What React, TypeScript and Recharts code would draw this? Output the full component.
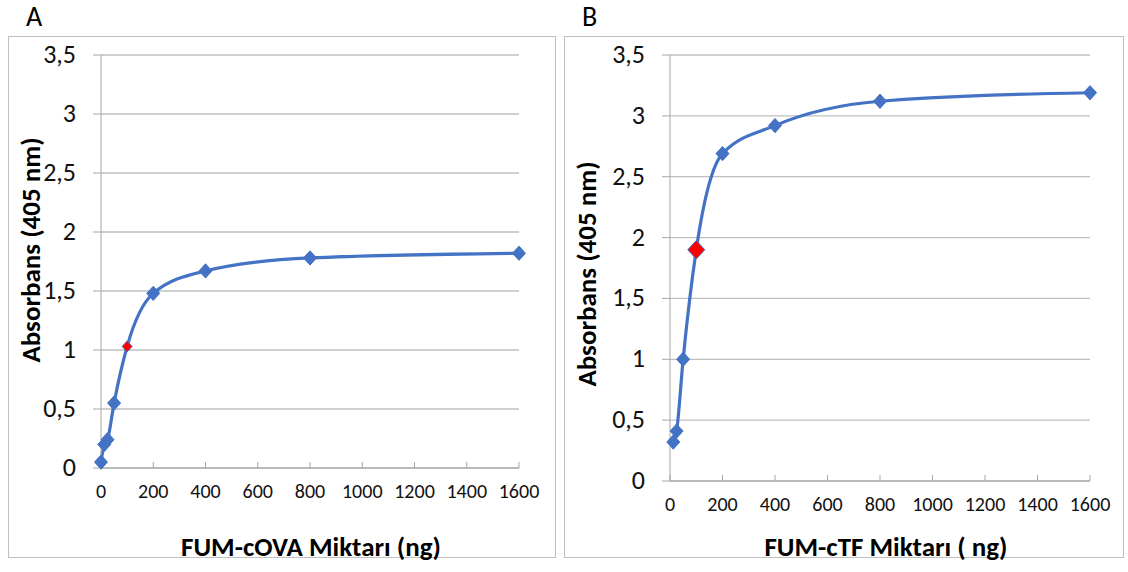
import React from 'react';
import { LineChart, Line, XAxis, YAxis, CartesianGrid } from 'recharts';

// Panel A: FUM-cOVA
const ovaAmounts = [0, 12.5, 25, 50, 100, 200, 400, 800, 1600];
const ovaAbsorbance = [0.05, 0.2, 0.24, 0.55, 1.03, 1.48, 1.67, 1.78, 1.82];

// Panel B: FUM-cTF
const tfAmounts = [12.5, 25, 50, 100, 200, 400, 800, 1600];
const tfAbsorbance = [0.32, 0.41, 1.0, 1.9, 2.69, 2.92, 3.12, 3.19];

// the point marked in red on each curve
const highlightAmount = 100;

const xTicks = [0, 200, 400, 600, 800, 1000, 1200, 1400, 1600];
const yTicks = [0, 0.5, 1, 1.5, 2, 2.5, 3, 3.5];

const FONT = "Carlito, Calibri, 'Open Sans', 'Noto Sans', sans-serif";
const BLUE = '#4472C4';
const GRID = '#BFBFBF';

const fmt = (v: number) => String(v).replace('.', ',');

function makeDot(blueSize: number, redSize: number) {
  return (props: any) => {
    const { cx, cy, payload, index } = props;
    const red = payload.x === highlightAmount;
    const w = (red ? redSize : blueSize) / 2;
    const h = w * 1.1;
    return (
      <path
        key={`d-${index}`}
        d={`M${cx},${cy - h} L${cx + w},${cy} L${cx},${cy + h} L${cx - w},${cy} Z`}
        fill={red ? '#FF0000' : BLUE}
        stroke={BLUE}
        strokeWidth={1}
      />
    );
  };
}

// x tick: text centred on the tick, dropped below the axis line
const XTick = (props: any) => {
  const { x, y, payload } = props;
  return (
    <text x={x} y={y + 36} textAnchor="middle" fontSize={20} fontFamily={FONT} fill="#111">
      {payload.value}
    </text>
  );
};

// y tick: right aligned, comma decimal
const YTick = (props: any) => {
  const { x, y, payload } = props;
  return (
    <text x={x - 17} y={y + 8} textAnchor="end" fontSize={26} fontFamily={FONT} fill="#111">
      {fmt(payload.value)}
    </text>
  );
};

interface PanelProps {
  letter: string;
  xs: number[];
  ys: number[];
  left: number;
  width: number;
  margin: { top: number; right: number; bottom: number; left: number };
  xTitle: string;
  xTitleX: number;
  yTitleX: number;
  yTitleY: number;
  redSize: number;
}

function Panel(p: PanelProps) {
  const data = p.xs.map((x, i) => ({ x, y: p.ys[i] }));
  return (
    <>
      <div style={{ position: 'absolute', left: p.left + 18, top: -1, fontSize: 28, fontFamily: FONT }}>{p.letter}</div>
      <div
        style={{
          position: 'absolute',
          left: p.left,
          top: 36,
          width: p.width - 2,
          height: 520,
          border: '1px solid #BFBFBF',
        }}
      />
      <div style={{ position: 'absolute', left: p.left, top: 36 }}>
        <LineChart width={p.width} height={522} data={data} margin={p.margin}>
          <CartesianGrid vertical={false} stroke={GRID} strokeWidth={1.3} />
          <XAxis
            type="number"
            dataKey="x"
            domain={[0, 1600]}
            ticks={xTicks}
            interval={0}
            stroke="#A6A6A6"
            tickSize={-6}
            tickMargin={0}
            height={30}
            tick={<XTick />}
          />
          <YAxis
            type="number"
            domain={[0, 3.5]}
            ticks={yTicks}
            interval={0}
            width={60}
            stroke="#A6A6A6"
            tickSize={8}
            tickMargin={0}
            tick={<YTick />}
          />
          <Line
            type="monotone"
            dataKey="y"
            stroke={BLUE}
            strokeWidth={3.2}
            dot={makeDot(13, p.redSize)}
            activeDot={false}
            isAnimationActive={false}
          />
        </LineChart>
      </div>
      <div
        style={{
          position: 'absolute',
          left: p.xTitleX - 200,
          width: 400,
          top: 532,
          lineHeight: '30px',
          textAlign: 'center',
          fontSize: 27,
          fontWeight: 'bold',
          fontFamily: FONT,
        }}
      >
        {p.xTitle}
      </div>
      <div
        style={{
          position: 'absolute',
          left: p.yTitleX - 150,
          top: p.yTitleY - 15,
          width: 300,
          height: 30,
          lineHeight: '30px',
          textAlign: 'center',
          transform: 'rotate(-90deg)',
          fontSize: 27,
          fontWeight: 'bold',
          fontFamily: FONT,
        }}
      >
        Absorbans (405 nm)
      </div>
    </>
  );
}

export default function App() {
  return (
    <div style={{ position: 'absolute', left: 0, top: 0, width: 1128, height: 572, background: '#fff' }}>
      <Panel
        letter="A"
        xs={ovaAmounts}
        ys={ovaAbsorbance}
        left={8}
        width={548}
        margin={{ top: 19, right: 37, bottom: 60, left: 33 }}
        xTitle="FUM-cOVA Miktarı (ng)"
        xTitleX={311}
        yTitleX={31}
        yTitleY={250}
        redSize={10}
      />
      <Panel
        letter="B"
        xs={tfAmounts}
        ys={tfAbsorbance}
        left={564}
        width={560}
        margin={{ top: 19, right: 34, bottom: 47, left: 46 }}
        xTitle="FUM-cTF Miktarı ( ng)"
        xTitleX={886}
        yTitleX={587}
        yTitleY={274}
        redSize={17}
      />
    </div>
  );
}
